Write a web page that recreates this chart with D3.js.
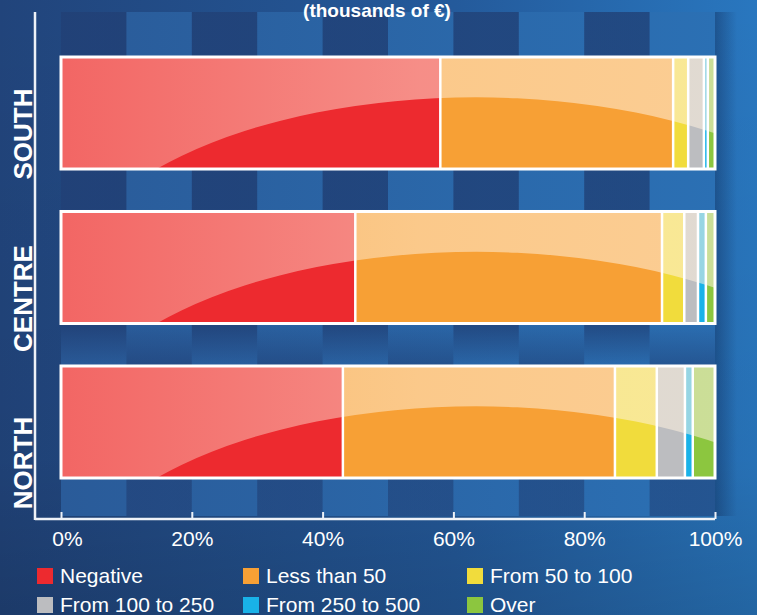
<!DOCTYPE html>
<html>
<head>
<meta charset="utf-8">
<script src="https://cdn.jsdelivr.net/npm/d3@7"></script>
<style>
  html, body { margin: 0; padding: 0; background: #22467e; }
  svg { display: block; }
  text { font-family: "Liberation Sans", Arial, sans-serif; }
</style>
</head>
<body>
<svg id="chart" width="757" height="615"></svg>
<script>
// ---- data ----
const categories = ["SOUTH", "CENTRE", "NORTH"];
const seriesNames = ["Negative", "Less than 50", "From 50 to 100", "From 100 to 250", "From 250 to 500", "Over"];
const negative     = [58.0, 45.0, 43.1];
const lessThan50   = [35.6, 46.9, 41.6];
const from50to100  = [2.3, 3.4, 6.4];
const from100to250 = [2.4, 2.1, 4.3];
const from250to500 = [0.6, 1.2, 1.2];
const over         = [1.1, 1.4, 3.4];
const tickValues = [0, 20, 40, 60, 80, 100];
const tickLabels = ["0%", "20%", "40%", "60%", "80%", "100%"];
const title = "(thousands of €)";

const seriesValues = [negative, lessThan50, from50to100, from100to250, from250to500, over];
const colors = ["#ed2a2f", "#f7a035", "#f1dc3c", "#bcbdc0", "#19b2e8", "#8cc63f"];

// ---- layout ----
const W = 757, H = 615;
const svg = d3.select("#chart");
const defs = svg.append("defs");

const x = d3.scaleLinear().domain([0, 100]).range([61, 715]);
const y = d3.scaleBand().domain(categories).range([57, 478]).paddingInner(0.275).paddingOuter(0);
const yLabel = d3.scalePoint().domain(categories).range([134, 463]);

// background gradient
const bg = defs.append("linearGradient").attr("id", "bg").attr("x1", 0).attr("x2", 1).attr("y1", 0).attr("y2", 0);
bg.append("stop").attr("offset", 0).attr("stop-color", "#21447b");
bg.append("stop").attr("offset", 0.6).attr("stop-color", "#245a9b");
bg.append("stop").attr("offset", 1).attr("stop-color", "#2977bf");
svg.append("rect").attr("width", W).attr("height", H).attr("fill", "url(#bg)");

const bgV = defs.append("linearGradient").attr("id", "bgV").attr("x1", 0).attr("x2", 0).attr("y1", 0).attr("y2", 1);
bgV.append("stop").attr("offset", 0).attr("stop-color", "#000").attr("stop-opacity", 0);
bgV.append("stop").attr("offset", 0.75).attr("stop-color", "#000").attr("stop-opacity", 0.05);
bgV.append("stop").attr("offset", 1).attr("stop-color", "#000").attr("stop-opacity", 0.15);
svg.append("rect").attr("width", W).attr("height", H).attr("fill", "url(#bgV)");

// plot background (checker columns)
const plotTop = 12, plotBottom = 516;
const pg = defs.append("linearGradient").attr("id", "plotbg").attr("gradientUnits", "userSpaceOnUse")
  .attr("x1", x(0)).attr("x2", x(100)).attr("y1", 0).attr("y2", 0);
pg.append("stop").attr("offset", 0).attr("stop-color", "#2a5b99");
pg.append("stop").attr("offset", 1).attr("stop-color", "#2b70b4");
// right shadow
const sh = defs.append("linearGradient").attr("id", "shadow").attr("x1", 0).attr("x2", 1);
sh.append("stop").attr("offset", 0).attr("stop-color", "#0a1a40").attr("stop-opacity", 0.35);
sh.append("stop").attr("offset", 1).attr("stop-color", "#0a1a40").attr("stop-opacity", 0);
svg.append("rect").attr("x", x(100)).attr("y", plotTop).attr("width", 22).attr("height", plotBottom - plotTop).attr("fill", "url(#shadow)");

svg.append("rect").attr("x", x(0)).attr("y", plotTop).attr("width", x(100) - x(0)).attr("height", plotBottom - plotTop)
  .attr("fill", "url(#plotbg)");

const g1 = defs.append("linearGradient").attr("id", "darkA").attr("gradientUnits", "userSpaceOnUse")
  .attr("x1", 0).attr("x2", 0).attr("y1", 322).attr("y2", 368);
g1.append("stop").attr("offset", 0).attr("stop-color", "#1a2c5c").attr("stop-opacity", 0.55);
g1.append("stop").attr("offset", 1).attr("stop-color", "#1a2c5c").attr("stop-opacity", 0);
const g2 = defs.append("linearGradient").attr("id", "darkB").attr("gradientUnits", "userSpaceOnUse")
  .attr("x1", 0).attr("x2", 0).attr("y1", 322).attr("y2", 368);
g2.append("stop").attr("offset", 0).attr("stop-color", "#1a2c5c").attr("stop-opacity", 0);
g2.append("stop").attr("offset", 1).attr("stop-color", "#1a2c5c").attr("stop-opacity", 0.4);

const cols = d3.range(0, 100, 10);
svg.append("g").selectAll("rect.a").data(cols.filter(c => (c / 10) % 2 === 0)).join("rect")
  .attr("x", d => x(d)).attr("y", plotTop).attr("width", d => x(d + 10) - x(d)).attr("height", 368 - plotTop)
  .attr("fill", "url(#darkA)");
svg.append("g").selectAll("rect.b").data(cols.filter(c => (c / 10) % 2 === 1)).join("rect")
  .attr("x", d => x(d)).attr("y", 322).attr("width", d => x(d + 10) - x(d)).attr("height", plotBottom - 322)
  .attr("fill", "url(#darkB)");

// title
svg.append("text").attr("x", 377).attr("y", 17).attr("text-anchor", "middle")
  .attr("font-size", 19).attr("font-weight", "bold").attr("fill", "#fff").text(title);

// stacked data
const rows = categories.map((c, i) => {
  let acc = 0;
  return seriesValues.map((s, k) => {
    const d = { cat: c, k, x0: acc, x1: acc + s[i] };
    acc += s[i];
    return d;
  });
});

// gloss gradient
const gl = defs.append("linearGradient").attr("id", "gloss").attr("gradientUnits", "userSpaceOnUse")
  .attr("x1", x(0)).attr("x2", x(100)).attr("y1", 0).attr("y2", 0);
gl.append("stop").attr("offset", 0).attr("stop-color", "#fff2e0").attr("stop-opacity", 0.3);
gl.append("stop").attr("offset", 0.55).attr("stop-color", "#fff2e0").attr("stop-opacity", 0.5);
gl.append("stop").attr("offset", 1).attr("stop-color", "#fff2e0").attr("stop-opacity", 0.55);

const bars = svg.append("g");
categories.forEach((c, i) => {
  const y0 = y(c), h = y.bandwidth();
  const bx0 = x(0), bx1 = x(100);
  const clipId = "clip" + i;
  defs.append("clipPath").attr("id", clipId).append("rect")
    .attr("x", bx0).attr("y", y0).attr("width", bx1 - bx0).attr("height", h);
  const bg = bars.append("g");
  const segG = bg.append("g").attr("clip-path", `url(#${clipId})`);
  segG.selectAll("rect").data(rows[i]).join("rect")
    .attr("x", d => x(d.x0)).attr("y", y0)
    .attr("width", d => Math.max(0, x(d.x1) - x(d.x0))).attr("height", h)
    .attr("fill", d => colors[d.k]);
  // gloss highlight: region above an ellipse
  const cx = x(63.5), rx = 417, ry = 200, cy = y0 + 0.36 * h + ry;
  const ell = `M${cx - rx},${cy} a${rx},${ry} 0 1,0 ${2 * rx},0 a${rx},${ry} 0 1,0 ${-2 * rx},0 Z`;
  const rectPath = `M${bx0},${y0} H${bx1} V${y0 + h} H${bx0} Z`;
  segG.append("path").attr("d", rectPath + " " + ell).attr("fill-rule", "evenodd").attr("fill", "url(#gloss)");
  // separators
  segG.selectAll("line").data(rows[i].slice(1)).join("line")
    .attr("x1", d => x(d.x0)).attr("x2", d => x(d.x0)).attr("y1", y0).attr("y2", y0 + h)
    .attr("stroke", "#fff").attr("stroke-width", 2.5);
  // border
  bg.append("rect").attr("x", bx0).attr("y", y0).attr("width", bx1 - bx0).attr("height", h)
    .attr("fill", "none").attr("stroke", "#fff").attr("stroke-width", 3);
});

// category labels
svg.append("g").selectAll("text").data(categories).join("text")
  .attr("transform", d => `translate(32,${yLabel(d)}) rotate(-90)`)
  .attr("text-anchor", "middle").attr("font-size", 26).attr("font-weight", "bold").attr("fill", "#fff")
  .text(d => d);

// axes lines
const axisY = 519;
svg.append("line").attr("x1", 35).attr("x2", 35).attr("y1", 12).attr("y2", axisY + 1)
  .attr("stroke", "#eef2f8").attr("stroke-width", 2.5);
const xAxis = d3.axisBottom(x).tickValues(tickValues).tickFormat((d, i) => tickLabels[i])
  .tickSizeInner(-7).tickSizeOuter(0).tickPadding(12);
const ax = svg.append("g").attr("transform", `translate(0,${axisY})`).call(xAxis);
ax.select(".domain").remove();
ax.selectAll(".tick line").attr("stroke", "#eef2f8").attr("stroke-width", 2);
ax.selectAll(".tick text").attr("fill", "#fff").attr("font-size", 21)
  .attr("font-family", "'Liberation Sans', Arial, sans-serif")
  .attr("dx", (d, i) => i === 0 ? 6 : 0);
svg.append("line").attr("x1", 35).attr("x2", x(100)).attr("y1", axisY).attr("y2", axisY)
  .attr("stroke", "#eef2f8").attr("stroke-width", 2.5);

// legend
const legX = [37, 243, 467], legY = [568, 597];
const leg = svg.append("g").selectAll("g").data(seriesNames).join("g")
  .attr("transform", (d, i) => `translate(${legX[i % 3]},${legY[Math.floor(i / 3)]})`);
leg.append("rect").attr("width", 16).attr("height", 16).attr("fill", (d, i) => colors[i]);
leg.append("text").attr("x", 23).attr("y", 15).attr("font-size", 21).attr("fill", "#fff").text(d => d);
</script>
</body>
</html>
